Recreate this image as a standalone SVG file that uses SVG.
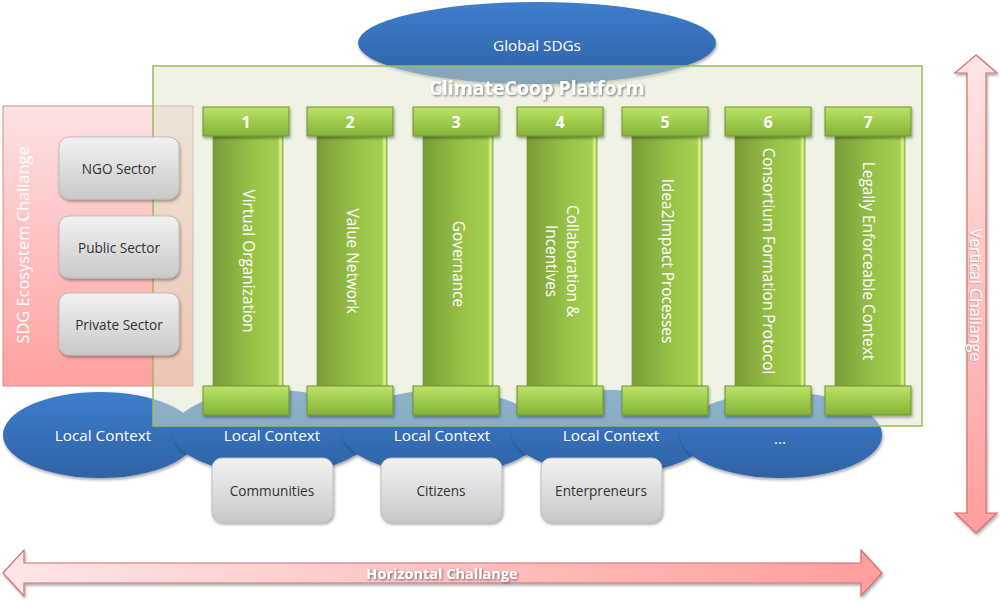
<svg xmlns="http://www.w3.org/2000/svg" width="1000" height="601" viewBox="0 0 1000 601">
<defs>
<linearGradient id="blueG" x1="0" y1="0" x2="0" y2="1"><stop offset="0" stop-color="#3d7dcc"/><stop offset="1" stop-color="#2f62a4"/></linearGradient>
<linearGradient id="redG" x1="0" y1="0" x2="0" y2="1"><stop offset="0" stop-color="#fde2e2"/><stop offset="1" stop-color="#ffa0a0"/></linearGradient>
<linearGradient id="grayG" x1="0" y1="0" x2="0" y2="1"><stop offset="0" stop-color="#f2f2f2"/><stop offset="1" stop-color="#c9c9c9"/></linearGradient>
<linearGradient id="capG" x1="0" y1="0" x2="0" y2="1"><stop offset="0" stop-color="#bde26a"/><stop offset="0.5" stop-color="#9fcb4c"/><stop offset="1" stop-color="#86b23a"/></linearGradient>
<linearGradient id="shaftG" x1="0" y1="0" x2="1" y2="0"><stop offset="0" stop-color="#7a9c38"/><stop offset="0.6" stop-color="#9ac448"/><stop offset="0.93" stop-color="#a6d052"/><stop offset="0.96" stop-color="#e0f596"/><stop offset="1" stop-color="#a6d052"/></linearGradient>
<linearGradient id="hArrG" x1="0" y1="0" x2="1" y2="0"><stop offset="0" stop-color="#ffe6e6"/><stop offset="1" stop-color="#ff9d9d"/></linearGradient>
<linearGradient id="vArrG" x1="0" y1="0" x2="0" y2="1"><stop offset="0" stop-color="#ffe6e6"/><stop offset="1" stop-color="#ff9d9d"/></linearGradient>
<filter id="sh" x="-20%" y="-20%" width="140%" height="150%"><feDropShadow dx="1" dy="2" stdDeviation="1.5" flood-color="#000" flood-opacity="0.35"/></filter>
<filter id="tsh" x="-10%" y="-30%" width="120%" height="160%"><feDropShadow dx="1" dy="1" stdDeviation="0.8" flood-color="#333" flood-opacity="0.7"/></filter>
<filter id="lsh" x="-10%" y="-30%" width="120%" height="160%"><feDropShadow dx="1" dy="1" stdDeviation="0.6" flood-color="#999" flood-opacity="0.6"/></filter>
</defs>
<style>
text{font-family:"Open Sans","Noto Sans","Liberation Sans",sans-serif;}
.ell{fill:url(#blueG);filter:url(#sh);}
.wt{fill:#fff;font-size:15.3px;text-anchor:middle;dominant-baseline:central;}
.gbox{fill:url(#grayG);stroke:#bdbdbd;stroke-width:1;filter:url(#sh);}
.dt{fill:#333;font-size:13.6px;text-anchor:middle;dominant-baseline:central;}
.cap{fill:url(#capG);stroke:#6f962e;stroke-width:1;filter:url(#sh);}
.shaft{fill:url(#shaftG);stroke:#7f9f3d;stroke-width:0.8;}
.num{fill:#fff;font-size:16px;font-weight:bold;text-anchor:middle;dominant-baseline:central;}
.pt{fill:#fff;font-size:15.4px;text-anchor:middle;dominant-baseline:central;}
.arr{stroke:#cf7070;stroke-width:1.2;filter:url(#sh);}
</style>

<g id="global-sdgs">
<ellipse class="ell" cx="537" cy="43" rx="179" ry="41"/>
<text class="wt" x="537" y="45">Global SDGs</text>
</g>

<g id="local-context-1"><ellipse class="ell" cx="100" cy="435" rx="97" ry="43"/><text class="wt" x="103" y="435">Local Context</text></g>
<g id="local-context-2"><ellipse class="ell" cx="272" cy="432" rx="100" ry="42"/><text class="wt" x="272" y="435">Local Context</text></g>
<g id="local-context-3"><ellipse class="ell" cx="442" cy="432" rx="100" ry="42"/><text class="wt" x="442" y="435">Local Context</text></g>
<g id="local-context-4"><ellipse class="ell" cx="611" cy="432" rx="100" ry="42"/><text class="wt" x="611" y="435">Local Context</text></g>
<g id="local-context-5"><ellipse class="ell" cx="781" cy="435" rx="101" ry="43"/><text class="wt" x="780" y="438">...</text></g>

<g id="sdg-ecosystem">
<rect x="3" y="106" width="190" height="280" fill="url(#redG)" stroke="#d98c8c" stroke-width="1"/>
<text class="wt" font-size="16.4" style="font-size:16.4px" transform="translate(22,245) rotate(-90)">SDG Ecosystem Challange</text>
</g>

<g id="platform">
<rect x="153" y="66" width="769" height="360" fill="rgb(221,231,203)" fill-opacity="0.5" stroke="#9bbb59" stroke-width="1.5"/>
<text x="537" y="87" fill="#fff" font-size="19.5" font-weight="bold" text-anchor="middle" dominant-baseline="central" filter="url(#tsh)">ClimateCoop Platform</text>
</g>

<g id="ngo-sector"><rect class="gbox" x="59" y="137" width="120" height="62" rx="10"/><text class="dt" x="119" y="168">NGO Sector</text></g>
<g id="public-sector"><rect class="gbox" x="59" y="216" width="120" height="62" rx="10"/><text class="dt" x="119" y="247">Public Sector</text></g>
<g id="private-sector"><rect class="gbox" x="59" y="293" width="120" height="62" rx="10"/><text class="dt" x="119" y="324">Private Sector</text></g>

<g id="pillar-1">
<rect class="shaft" x="213" y="136" width="70" height="250"/>
<rect class="cap" x="203" y="107" width="86" height="29"/><rect class="cap" x="203" y="386" width="86" height="29"/>
<text class="num" x="246" y="122">1</text>
<text class="pt" transform="translate(248,261) rotate(90)">Virtual Organization</text>
</g>
<g id="pillar-2">
<rect class="shaft" x="317" y="136" width="70" height="250"/>
<rect class="cap" x="307" y="107" width="86" height="29"/><rect class="cap" x="307" y="386" width="86" height="29"/>
<text class="num" x="350" y="122">2</text>
<text class="pt" transform="translate(352,261) rotate(90)">Value Network</text>
</g>
<g id="pillar-3">
<rect class="shaft" x="423" y="136" width="70" height="250"/>
<rect class="cap" x="413" y="107" width="86" height="29"/><rect class="cap" x="413" y="386" width="86" height="29"/>
<text class="num" x="456" y="122">3</text>
<text class="pt" transform="translate(458,264) rotate(90)">Governance</text>
</g>
<g id="pillar-4">
<rect class="shaft" x="527" y="136" width="70" height="250"/>
<rect class="cap" x="517" y="107" width="86" height="29"/><rect class="cap" x="517" y="386" width="86" height="29"/>
<text class="num" x="560" y="122">4</text>
<text class="pt" transform="translate(562,261) rotate(90)"><tspan x="0" dy="-10.5">Collaboration &amp;</tspan><tspan x="0" dy="21">Incentives</tspan></text>
</g>
<g id="pillar-5">
<rect class="shaft" x="632" y="136" width="70" height="250"/>
<rect class="cap" x="622" y="107" width="86" height="29"/><rect class="cap" x="622" y="386" width="86" height="29"/>
<text class="num" x="665" y="122">5</text>
<text class="pt" transform="translate(667,261) rotate(90)">Idea2Impact Processes</text>
</g>
<g id="pillar-6">
<rect class="shaft" x="735" y="136" width="70" height="250"/>
<rect class="cap" x="725" y="107" width="86" height="29"/><rect class="cap" x="725" y="386" width="86" height="29"/>
<text class="num" x="768" y="122">6</text>
<text class="pt" transform="translate(768,261) rotate(90)">Consortium Formation Protocol</text>
</g>
<g id="pillar-7">
<rect class="shaft" x="835" y="136" width="70" height="250"/>
<rect class="cap" x="825" y="107" width="86" height="29"/><rect class="cap" x="825" y="386" width="86" height="29"/>
<text class="num" x="868" y="122">7</text>
<text class="pt" transform="translate(868,261) rotate(90)">Legally Enforceable Context</text>
</g>

<g id="communities"><rect class="gbox" x="212" y="458" width="121" height="64" rx="10"/><text class="dt" x="272" y="490">Communities</text></g>
<g id="citizens"><rect class="gbox" x="381" y="458" width="121" height="64" rx="10"/><text class="dt" x="441" y="490">Citizens</text></g>
<g id="enterpreneurs"><rect class="gbox" x="541" y="458" width="121" height="64" rx="10"/><text class="dt" x="601" y="490">Enterpreneurs</text></g>

<g id="connectors">
<g id="vertical-challange">
<path class="arr" fill="url(#vArrG)" d="M976,55 L997,73 L986,73 L986,513 L997,513 L976,533 L955,513 L967,513 L967,73 L955,73 Z"/>
<text x="976" y="295" fill="#fff" font-size="16" text-anchor="middle" dominant-baseline="central" filter="url(#lsh)" transform="rotate(90 976 295)">Vertical Challange</text>
</g>
<g id="horizontal-challange">
<path class="arr" fill="url(#hArrG)" d="M3,573 L24,550 L24,563 L861,563 L861,550 L882,573 L861,596 L861,583 L24,583 L24,596 Z"/>
<text x="442" y="573" fill="#fff" font-size="14.5" font-weight="bold" text-anchor="middle" dominant-baseline="central" filter="url(#tsh)">Horizontal Challange</text>
</g>
</g>
</svg>
